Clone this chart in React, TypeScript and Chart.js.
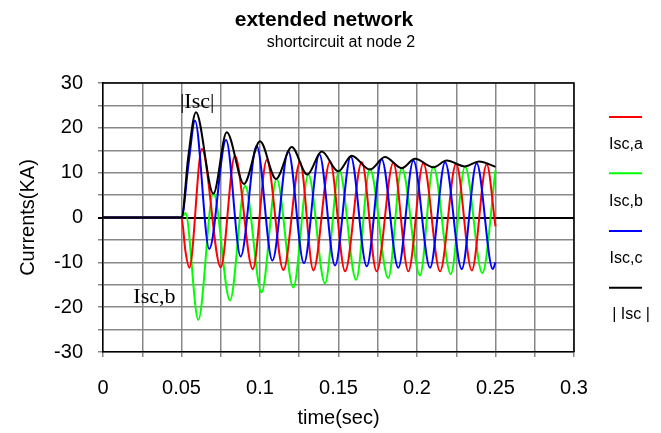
import React, { useEffect, useRef } from 'react';
import { Chart, registerables } from 'chart.js';

Chart.register(...registerables);

// ---- data ----
const titleText = 'extended network';
const subtitleText = 'shortcircuit at node 2';
const xAxisTitle = 'time(sec)';
const yAxisTitle = 'Currents(KA)';
const xTickLabels = ['0', '0.05', '0.1', '0.15', '0.2', '0.25', '0.3'];
const yTickLabels = ['-30', '-20', '-10', '0', '10', '20', '30'];
const seriesNames = ['Isc,a', 'Isc,b', 'Isc,c', '| Isc |'];
const seriesColors = ['#ff0000', '#00ff00', '#0000ff', '#000000'];

// Isc,a (red)
const timeA = [0, 0.05, 0.0525, 0.055, 0.063, 0.075, 0.084, 0.0954, 0.1043, 0.1149, 0.1255, 0.134, 0.1446, 0.1542, 0.1648, 0.1743, 0.1849, 0.1945, 0.204, 0.2147, 0.2249, 0.2349, 0.2444, 0.25];
const currA = [0, 0, -7.5, -11.2, 15.3, -11.1, 13.8, -11.5, 12.8, -11.7, 12.4, -11.8, 12.5, -12, 12.3, -12, 12.2, -12, 12.1, -12, 12, -11.8, 11.9, -2];

// Isc,b (green)
const timeB = [0, 0.05, 0.0525, 0.0607, 0.0703, 0.0809, 0.0905, 0.101, 0.1106, 0.1212, 0.1308, 0.1414, 0.1505, 0.1612, 0.17, 0.1817, 0.1903, 0.2019, 0.2104, 0.2215, 0.2306, 0.2416, 0.25];
const currB = [0, 0, 1, -22.8, 5.5, -18.5, 7.1, -16.7, 8.6, -15.6, 9.6, -14.7, 10.6, -13.9, 10.9, -13.5, 11.1, -12.9, 11.4, -12.6, 11.4, -12.4, 10.5];

// Isc,c (blue)
const timeC = [0, 0.05, 0.0545, 0.0586, 0.0677, 0.0784, 0.0877, 0.0979, 0.1079, 0.118, 0.128, 0.1378, 0.1478, 0.1578, 0.168, 0.1775, 0.1881, 0.1977, 0.2083, 0.2179, 0.2285, 0.238, 0.2483, 0.25];
const currC = [0, 0, 12, 21.6, -7, 17.3, -8.7, 16, -9.6, 14.8, -10.2, 14.1, -10.7, 13.6, -10.9, 13.0, -11.2, 12.7, -11.2, 12.3, -11.5, 12.1, -11.5, -10];

// |Isc| (black)
const timeM = [0, 0.05, 0.0543, 0.0592, 0.0703, 0.0788, 0.0898, 0.1, 0.1102, 0.1202, 0.1301, 0.1393, 0.1499, 0.1584, 0.17, 0.1796, 0.1903, 0.1987, 0.2104, 0.2189, 0.2306, 0.2395, 0.25];
const currM = [0, 0, 13.5, 23.5, 5.3, 19, 7.5, 17, 8.6, 15.7, 9.6, 14.7, 10.3, 13.8, 10.7, 13.5, 11.0, 13.1, 11.2, 12.7, 11.4, 12.5, 11.3];

// annotations: [text, time, current] (left / baseline anchor)
const annotations: [string, number, number][] = [
  ['|Isc|', 0.049, 24.5],
  ['Isc,b', 0.0193, -19.0],
];

const SANS = "'Liberation Sans', Arial, Helvetica, sans-serif";
const SERIF = "'Liberation Serif', 'Times New Roman', serif";

const toPoints = (t: number[], v: number[]) => t.map((x, i) => ({ x, y: v[i] }));

const framePlugin = {
  id: 'frame',
  beforeDatasetsDraw(chart: any) {
    const { ctx, chartArea: a } = chart;
    ctx.save();
    ctx.strokeStyle = '#000';
    ctx.lineWidth = 1.5;
    ctx.beginPath();
    ctx.moveTo(a.left, a.top);
    ctx.lineTo(a.right, a.top);
    ctx.lineTo(a.right, a.bottom);
    ctx.stroke();
    ctx.restore();
  },
};

const textPlugin = {
  id: 'texts',
  afterDraw(chart: any) {
    const { ctx } = chart;
    const xs = chart.scales.x;
    const ys = chart.scales.y;
    ctx.save();
    ctx.fillStyle = '#000';
    ctx.textBaseline = 'alphabetic';
    // titles
    ctx.textAlign = 'center';
    ctx.font = `bold 21px ${SANS}`;
    ctx.fillText(titleText, 324, 26);
    ctx.font = `16px ${SANS}`;
    ctx.fillText(subtitleText, 341, 46.5);
    // legend
    const lineYs = [117, 173.3, 231, 287.7];
    const textYs = [149.3, 206, 262.7, 319];
    seriesNames.forEach((name, i) => {
      ctx.strokeStyle = seriesColors[i];
      ctx.lineWidth = 2;
      ctx.beginPath();
      ctx.moveTo(609, lineYs[i]);
      ctx.lineTo(642, lineYs[i]);
      ctx.stroke();
      ctx.font = `16px ${SANS}`;
      ctx.fillStyle = '#000';
      ctx.textAlign = 'center';
      ctx.fillText(name, i === 3 ? 631 : 626, textYs[i]);
    });
    // annotations
    ctx.font = `22px ${SERIF}`;
    ctx.textAlign = 'left';
    annotations.forEach(([txt, t, v]) => {
      ctx.fillText(txt, xs.getPixelForValue(t), ys.getPixelForValue(v));
    });
    ctx.restore();
  },
};

export default function App() {
  const ref = useRef<HTMLCanvasElement>(null);
  useEffect(() => {
    if (!ref.current) return;
    const mk = (i: number, t: number[], v: number[], order: number) => ({
      label: seriesNames[i],
      data: toPoints(t, v),
      borderColor: seriesColors[i],
      backgroundColor: seriesColors[i],
      borderWidth: 2,
      pointRadius: 0,
      fill: false,
      cubicInterpolationMode: 'monotone' as const,
      order,
    });
    const chart = new Chart(ref.current, {
      type: 'line',
      data: {
        datasets: [
          mk(3, timeM, currM, 0),
          mk(2, timeC, currC, 1),
          mk(0, timeA, currA, 2),
          mk(1, timeB, currB, 3),
        ],
      },
      options: {
        responsive: false,
        animation: false,
        devicePixelRatio: 1,
        layout: { padding: { top: 83, right: 87, bottom: 0, left: 0 } },
        plugins: {
          legend: { display: false },
          tooltip: { enabled: false },
          title: { display: false },
        },
        scales: {
          x: {
            type: 'linear',
            min: 0,
            max: 0.3,
            afterFit: (s: any) => { s.height = 81; },
            ticks: {
              stepSize: 0.025,
              autoSkip: false,
              maxRotation: 0,
              padding: 19,
              color: '#000',
              font: { family: SANS, size: 20 },
              callback: (v: any) => {
                const k = Math.round(Number(v) / 0.05);
                return Math.abs(Number(v) / 0.05 - k) < 1e-6 ? xTickLabels[k] : '';
              },
            },
            grid: { color: '#888', lineWidth: 1.5, tickLength: 5 },
            border: { color: '#000', width: 1.5 },
            title: {
              display: true,
              text: xAxisTitle,
              color: '#000',
              font: { family: SANS, size: 20 },
              padding: { top: 0, bottom: 3 },
            },
          },
          y: {
            min: -30,
            max: 30,
            afterFit: (s: any) => { s.width = 103; },
            ticks: {
              stepSize: 5,
              autoSkip: false,
              padding: 15,
              color: '#000',
              font: { family: SANS, size: 20 },
              callback: (v: any) => {
                const n = Number(v);
                return Math.abs(n % 10) < 1e-6 ? yTickLabels[Math.round((n + 30) / 10)] : '';
              },
            },
            grid: {
              color: (c: any) => (c.tick && c.tick.value === 0 ? '#000' : '#888'),
              lineWidth: (c: any) => (c.tick && c.tick.value === 0 ? 2 : 1.5),
              tickLength: 5,
            },
            border: { color: '#000', width: 1.5 },
            title: {
              display: true,
              text: yAxisTitle,
              color: '#000',
              font: { family: SANS, size: 20 },
              padding: { top: 16, bottom: 0 },
            },
          },
        },
      } as any,
      plugins: [framePlugin, textPlugin],
    });
    return () => chart.destroy();
  }, []);
  return (
    <div style={{ position: 'absolute', left: 0, top: 0, width: 661, height: 433, background: '#fff' }}>
      <canvas ref={ref} width={661} height={433} style={{ display: 'block' }} />
    </div>
  );
}
